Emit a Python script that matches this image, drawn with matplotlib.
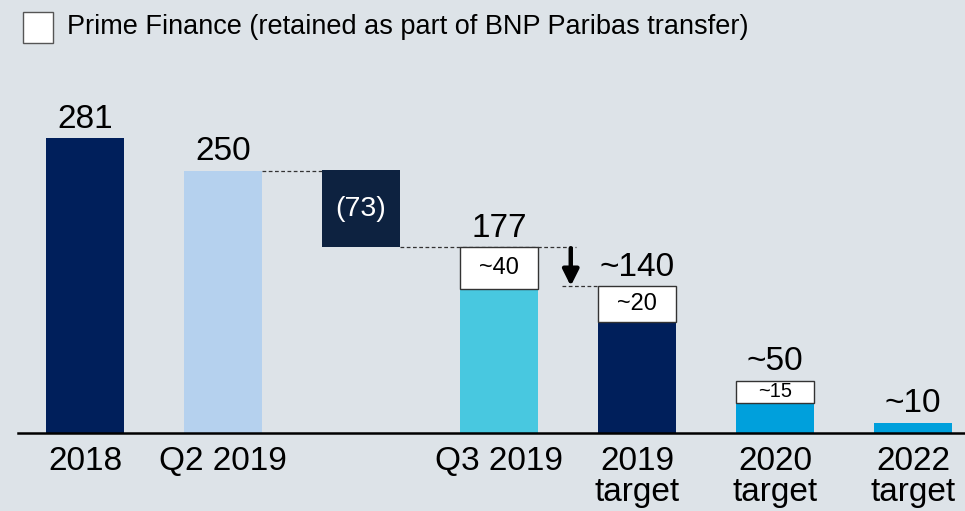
import matplotlib.pyplot as plt
from matplotlib.patches import Rectangle

plt.rcParams['font.family'] = ['Liberation Sans', 'DejaVu Sans']

# data
categories = ['2018', 'Q2 2019', '', 'Q3 2019', '2019\ntarget', '2020\ntarget', '2022\ntarget']
solid_values = [281, 250, 73, 137, 106, 29, 10]
solid_bottoms = [0, 0, 177, 0, 0, 0, 0]
retained_values = [0, 0, 0, 40, 34, 21, 0]
retained_labels = ['', '', '', '~40', '~20', '~15', '']
total_labels = ['281', '250', '', '177', '~140', '~50', '~10']
bar_colors = ['#001f5b', '#b5d1ee', '#0d2240', '#48c8e0', '#001f5b', '#00a0dc', '#00a0dc']
legend_text = 'Prime Finance (retained as part of BNP Paribas transfer)'

W, H = 965, 511
fig = plt.figure(figsize=(W / 100, H / 100), dpi=100)
fig.patch.set_facecolor('#dde3e8')

# axes: baseline at y=433px, x=0 centred at 85px, 138px per step
left_px, right_px, base_px, top_px = 18, 965, 433, 60
ax = fig.add_axes([left_px / W, (H - base_px) / H, (right_px - left_px) / W, (base_px - top_px) / H])
ax.set_facecolor('none')
ax.set_xlim((left_px - 85) / 138, (right_px - 85) / 138)
ax.set_ylim(0, (base_px - top_px) / 1.05)
for s in ['top', 'right', 'left']:
    ax.spines[s].set_visible(False)
ax.spines['bottom'].set_linewidth(1.8)
ax.set_yticks([])

x = list(range(len(categories)))
width = 0.56

ax.bar(x, solid_values, width, bottom=solid_bottoms, color=bar_colors, zorder=2)
tops = []
for i in x:
    top = solid_bottoms[i] + solid_values[i]
    if retained_values[i]:
        ax.bar(i, retained_values[i], width, bottom=top, color='white',
               edgecolor='#333333', linewidth=1.0, zorder=3)
        fs = 14.5 if retained_values[i] < 25 else 17
        ax.text(i, top + retained_values[i] / 2, retained_labels[i], ha='center', va='center',
                fontsize=fs, zorder=4)
        top += retained_values[i]
    tops.append(top)
    if total_labels[i]:
        ax.text(i, top + 3, total_labels[i], ha='center', va='bottom', fontsize=24)

# bridge label
ax.text(2, solid_bottoms[2] + solid_values[2] / 2, '(73)', ha='center', va='center',
        fontsize=20.5, color='white', zorder=4)

# connector lines
dash = dict(color='#333333', linestyle=(0, (3, 2)), linewidth=0.9, zorder=1)
ax.plot([1 + width / 2, 2 - width / 2], [tops[1], tops[1]], **dash)
ax.plot([2 + width / 2, 3.56], [solid_bottoms[2], solid_bottoms[2]], **dash)
ax.plot([3.46, 4 - width / 2], [tops[4], tops[4]], **dash)
ax.annotate('', xy=(3.52, tops[4]), xytext=(3.52, tops[3] - 1),
            arrowprops=dict(arrowstyle='-|>', color='black', lw=3.2, mutation_scale=24,
                            shrinkA=0, shrinkB=0))

ax.set_xticks(x)
ax.set_xticklabels(categories, fontsize=24, linespacing=1.0)
ax.tick_params(axis='x', length=0, pad=9)

# legend
fig.add_artist(Rectangle((23 / W, (H - 43) / H), 30 / W, 31 / H, transform=fig.transFigure,
                         facecolor='white', edgecolor='#555555', linewidth=1.0))
fig.text(67 / W, (H - 27) / H, legend_text, ha='left', va='center', fontsize=19.5)

fig.savefig('out.png', dpi=100, facecolor=fig.get_facecolor())
